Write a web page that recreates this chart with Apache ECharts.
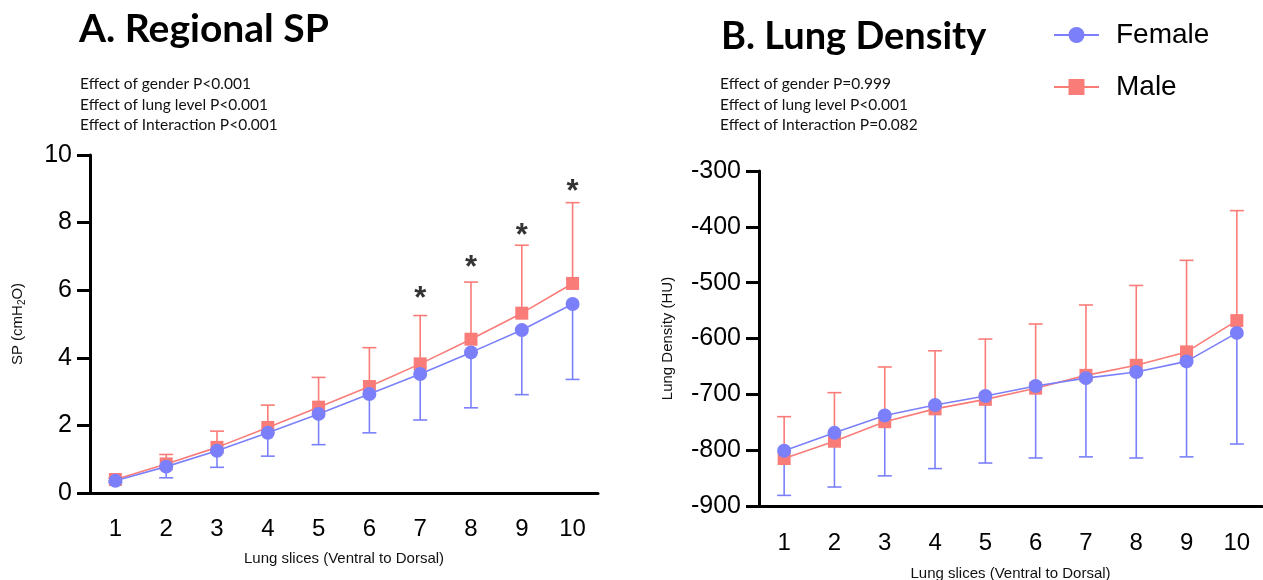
<!DOCTYPE html>
<html lang="en">
<head>
    <meta charset="UTF-8">
    <title>Regional SP and Lung Density</title>
    <script src="https://cdn.jsdelivr.net/npm/echarts@6/dist/echarts.min.js"></script>
    <style>
        html, body { margin: 0; padding: 0; background: #fff; }
        #chart { width: 1263px; height: 580px; }
    </style>
</head>
<body onload="setup()">
    <div id="chart"></div>
    <script>
        // lung slices, ventral to dorsal
        var slices = ['1', '2', '3', '4', '5', '6', '7', '8', '9', '10']

        // A. Regional SP (cmH2O), mean and SD
        var spFemale = [0.36, 0.78, 1.25, 1.78, 2.34, 2.93, 3.52, 4.16, 4.82, 5.59]
        var spFemaleSD = [0.05, 0.33, 0.49, 0.69, 0.91, 1.15, 1.36, 1.64, 1.91, 2.23]
        var spMale = [0.40, 0.86, 1.35, 1.94, 2.54, 3.15, 3.82, 4.55, 5.32, 6.20]
        var spMaleSD = [0.05, 0.28, 0.48, 0.66, 0.88, 1.15, 1.43, 1.69, 2.01, 2.39]
        // significance stars (value where the * sits)
        var spStars = [null, null, null, null, null, null, 5.89, 6.81, 7.78, 9.07]

        // B. Lung density (HU), mean and SD
        var ldFemale = [-801, -769, -738, -719, -703, -685, -671, -660, -641, -590]
        var ldFemaleSD = [80, 97, 108, 114, 120, 129, 141, 154, 171, 199]
        var ldMale = [-815, -784, -749, -726, -709, -689, -666, -648, -624, -568]
        var ldMaleSD = [75, 87, 98, 104, 108, 115, 126, 143, 164, 197]

        var notesA = ['Effect of gender P<0.001', 'Effect of lung level P<0.001', 'Effect of Interaction P<0.001']
        var notesB = ['Effect of gender P=0.999', 'Effect of lung level P<0.001', 'Effect of Interaction P=0.082']

        var blue = '#7b80fa'
        var red = '#fa7c78'
        var ff = 'Liberation Sans, Arial, sans-serif'
        var titleFont = 'Lato, sans-serif'

        var myChart

        function setup() {
            myChart = echarts.init(document.getElementById('chart'))
            myChart.setOption(buildOption())
        }

        // whisker in one direction only (dir = 1 up, -1 down)
        function errorBar(name, means, sds, dir, color, axisIdx) {
            var data = means.map(function (m, i) { return [i, m, sds[i]] })
            return {
                name: name,
                type: 'custom',
                xAxisIndex: axisIdx,
                yAxisIndex: axisIdx,
                z: 1,
                silent: true,
                encode: { x: 0, y: 1 },
                data: data,
                renderItem: function (params, api) {
                    var i = api.value(0)
                    var m = api.value(1)
                    var e = api.value(2)
                    var p0 = api.coord([i, m])
                    var p1 = api.coord([i, m + dir * e])
                    var hw = 7
                    var st = { stroke: color, lineWidth: 1.6 }
                    return {
                        type: 'group',
                        children: [
                            { type: 'line', shape: { x1: p0[0], y1: p0[1], x2: p1[0], y2: p1[1] }, style: st },
                            { type: 'line', shape: { x1: p1[0] - hw, y1: p1[1], x2: p1[0] + hw, y2: p1[1] }, style: st }
                        ]
                    }
                }
            }
        }

        function lineSeries(name, data, axisIdx) {
            var isF = name == 'Female'
            return {
                name: name,
                type: 'line',
                xAxisIndex: axisIdx,
                yAxisIndex: axisIdx,
                data: data,
                z: isF ? 4 : 3,
                symbol: isF ? 'circle' : 'rect',
                symbolSize: isF ? 14 : 13,
                color: isF ? blue : red,
                lineStyle: { width: 1.6, color: isF ? blue : red },
                itemStyle: { color: isF ? blue : red },
                emphasis: { disabled: true }
            }
        }

        function xAxis(gridIdx, nameGap, margin) {
            return {
                type: 'category',
                gridIndex: gridIdx,
                data: slices,
                boundaryGap: true,
                name: 'Lung slices (Ventral to Dorsal)',
                nameLocation: 'middle',
                nameGap: nameGap,
                nameTextStyle: { fontFamily: ff, fontSize: 15, color: '#111' },
                axisLine: { lineStyle: { color: '#000', width: 3 } },
                axisTick: { alignWithLabel: true, length: 13, lineStyle: { color: '#000', width: 3 } },
                axisLabel: { fontFamily: ff, fontSize: 24, color: '#000', margin: margin },
                splitLine: { show: false }
            }
        }

        function yAxis(gridIdx, min, max, interval, name, nameGap) {
            return {
                type: 'value',
                gridIndex: gridIdx,
                min: min,
                max: max,
                interval: interval,
                name: name,
                nameLocation: 'middle',
                nameGap: nameGap,
                nameRotate: 90,
                nameTextStyle: {
                    fontFamily: ff, fontSize: 15, color: '#111',
                    rich: { sub: { fontFamily: ff, fontSize: 10, color: '#111', verticalAlign: 'bottom', padding: [8, 0, 0, 0] } }
                },
                axisLine: { show: true, lineStyle: { color: '#000', width: 3 } },
                axisTick: { show: true, length: 13, lineStyle: { color: '#000', width: 3 } },
                axisLabel: { fontFamily: ff, fontSize: 25, color: '#000', margin: 18 },
                splitLine: { show: false }
            }
        }

        function noteTexts(lines, x, y0) {
            return lines.map(function (t, i) {
                return {
                    type: 'text', left: x, top: y0 + i * 20.5,
                    style: { text: t, font: '15.5px ' + titleFont, fill: '#111' }
                }
            })
        }

        function buildOption() {
            var graphics = [
                { type: 'text', left: 79, top: 10, style: { text: 'A. Regional SP', font: 'bold 39px ' + titleFont, fill: '#000' } },
                { type: 'text', left: 721, top: 18, style: { text: 'B. Lung Density', font: 'bold 38px ' + titleFont, fill: '#000' } }
            ].concat(noteTexts(notesA, 80, 76)).concat(noteTexts(notesB, 720, 76))

            return {
                animation: false,
                backgroundColor: '#fff',
                graphic: graphics,
                legend: {
                    data: ['Female', 'Male'],
                    orient: 'vertical',
                    left: 1048,
                    top: 16,
                    itemWidth: 45,
                    itemHeight: 20,
                    itemGap: 24,
                    selectedMode: false,
                    textStyle: { fontFamily: ff, fontSize: 28, color: '#000', padding: [0, 0, 0, 12] }
                },
                grid: [
                    { left: 90, top: 155, width: 508, height: 338, outerBoundsMode: 'none' },
                    { left: 759, top: 171, width: 503, height: 335, outerBoundsMode: 'none' }
                ],
                xAxis: [xAxis(0, 58, 24), xAxis(1, 60, 25)],
                yAxis: [
                    yAxis(0, 0, 10, 2, 'SP (cmH{sub|2}O)', 63),
                    yAxis(1, -900, -300, 100, 'Lung Density (HU)', 84)
                ],
                series: [
                    errorBar('spMaleErr', spMale, spMaleSD, 1, red, 0),
                    errorBar('spFemaleErr', spFemale, spFemaleSD, -1, blue, 0),
                    lineSeries('Male', spMale, 0),
                    lineSeries('Female', spFemale, 0),
                    {
                        name: 'stars',
                        type: 'scatter',
                        xAxisIndex: 0,
                        yAxisIndex: 0,
                        symbolSize: 0,
                        silent: true,
                        data: spStars,
                        label: {
                            show: true, position: 'inside', formatter: '*',
                            fontFamily: ff, fontWeight: 'bold', fontSize: 31, color: '#000', offset: [0, 6]
                        }
                    },
                    errorBar('ldMaleErr', ldMale, ldMaleSD, 1, red, 1),
                    errorBar('ldFemaleErr', ldFemale, ldFemaleSD, -1, blue, 1),
                    lineSeries('Male', ldMale, 1),
                    lineSeries('Female', ldFemale, 1)
                ]
            }
        }
    </script>
</body>
</html>
